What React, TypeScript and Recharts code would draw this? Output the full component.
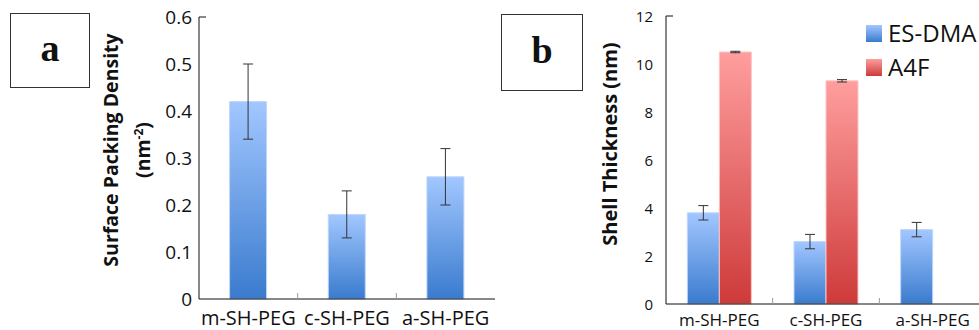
import React from 'react';
import { BarChart, Bar, XAxis, YAxis, ErrorBar } from 'recharts';

const categories = ['m-SH-PEG', 'c-SH-PEG', 'a-SH-PEG'];
const densityValues = [0.42, 0.18, 0.26];
const densityErrors = [0.08, 0.05, 0.06];
const esdmaValues = [3.8, 2.6, 3.1];
const esdmaErrors = [0.3, 0.3, 0.3];
const a4fValues: (number | null)[] = [10.5, 9.3, null];
const a4fErrors: (number | null)[] = [0.03, 0.05, null];
const densityTicks = [0, 0.1, 0.2, 0.3, 0.4, 0.5, 0.6];
const thicknessTicks = [0, 2, 4, 6, 8, 10, 12];
const seriesNames = ['ES-DMA', 'A4F'];

const densityData = categories.map((c, i) => ({ name: c, value: densityValues[i], err: densityErrors[i] }));
const thicknessData = categories.map((c, i) => ({
  name: c,
  esdma: esdmaValues[i],
  esdmaErr: esdmaErrors[i],
  a4f: a4fValues[i],
  a4fErr: a4fErrors[i],
}));

const FONT = '"Open Sans", sans-serif';

// layout constants
const A_W = 500, A_H = 330, A_YW = 199, A_TOP = 17, A_XH = 31, A_RIGHT = 5;
const B_W = 496, B_H = 330, B_YW = 176, B_TOP = 16, B_XH = 26;
const A_BAND = (A_W - A_YW - A_RIGHT) / categories.length;
const B_BAND = (B_W - B_YW) / categories.length;

const BLUE_TOP = '#A2C7FF', BLUE_BOT = '#3A7BCE';
const RED_TOP = '#FF9E9E', RED_BOT = '#CE3A3A';

function makeYTick(fontSize: number, gap: number, top: number, fmt: (v: number) => string) {
  return (p: any) => {
    const { x, y, payload } = p;
    return (
      <g>
        <text x={x - gap} y={y} textAnchor="end" dominantBaseline="central" fontSize={fontSize} fontFamily={FONT} fill="#111">
          {fmt(payload.value)}
        </text>
        {payload.value === top && <line x1={x} x2={x + 7} y1={y} y2={y} stroke="#111" strokeWidth={1} />}
      </g>
    );
  };
}

function makeXTick(fontSize: number, dy: number, band: number) {
  return (p: any) => {
    const { x, y, payload, index } = p;
    return (
      <g>
        <text x={x} y={y + dy} textAnchor="middle" fontSize={fontSize} fontFamily={FONT} fill="#111">
          {payload.value}
        </text>
        {index < categories.length - 1 && (
          <line x1={x + band / 2} x2={x + band / 2} y1={y} y2={y - 6} stroke="#999" strokeWidth={1} />
        )}
      </g>
    );
  };
}

function LabelBox({ left, top, width, height, letter }: any) {
  return (
    <div
      style={{
        position: 'absolute',
        left,
        top,
        width,
        height,
        boxSizing: 'border-box',
        border: '1px solid #333',
        display: 'flex',
        alignItems: 'center',
        justifyContent: 'center',
        fontFamily: '"Liberation Serif", serif',
        fontWeight: 'bold',
        fontSize: 38,
        color: '#111',
        paddingBottom: 6,
      }}
    >
      {letter}
    </div>
  );
}

function ThicknessLegend() {
  const items = [
    { name: seriesNames[0], top: BLUE_TOP, bot: BLUE_BOT },
    { name: seriesNames[1], top: RED_TOP, bot: RED_BOT },
  ];
  return (
    <div style={{ position: 'absolute', left: 866, top: 16, fontFamily: FONT }}>
      {items.map((it) => (
        <div key={it.name} style={{ display: 'flex', alignItems: 'center', height: 34 }}>
          <div style={{ width: 16, height: 17, background: `linear-gradient(${it.top}, ${it.bot})`, marginRight: 6 }} />
          <span style={{ fontSize: 24, color: '#111', lineHeight: '24px' }}>{it.name}</span>
        </div>
      ))}
    </div>
  );
}

export default function App() {
  return (
    <div style={{ position: 'absolute', left: 0, top: 0, width: 979, height: 330, overflow: 'hidden', background: '#fff' }}>
      <LabelBox left={10} top={13} width={80} height={75} letter="a" />
      <LabelBox left={501} top={14} width={82} height={77} letter="b" />

      <div style={{ position: 'absolute', left: 0, top: 0 }}>
        <BarChart width={A_W} height={A_H} data={densityData} margin={{ top: A_TOP, right: A_RIGHT, bottom: 0, left: 0 }} barCategoryGap="31%">
          <defs>
            <linearGradient id="blueGrad" x1="0" y1="0" x2="0" y2="1">
              <stop offset="0%" stopColor={BLUE_TOP} />
              <stop offset="100%" stopColor={BLUE_BOT} />
            </linearGradient>
          </defs>
          <XAxis
            dataKey="name"
            height={A_XH}
            axisLine={{ stroke: '#111' }}
            tickLine={false}
            tickSize={0}
            tickMargin={0}
            interval={0}
            tick={makeXTick(20, 26, A_BAND)}
          />
          <YAxis
            width={A_YW}
            domain={[0, 0.6]}
            ticks={densityTicks}
            axisLine={{ stroke: '#111' }}
            tickLine={false}
            tickSize={0}
            tickMargin={0}
            interval={0}
            tick={makeYTick(19, 7, 0.6, (v) => (v === 0 ? '0' : v.toFixed(1)))}
            label={{
              content: () => (
                <g fontFamily={FONT} fontWeight="bold" fontSize={19.5} fill="#111">
                  <text x={118} y={150} textAnchor="middle" transform="rotate(-90 118 150)">Surface Packing Density</text>
                  <text x={150} y={150} textAnchor="middle" transform="rotate(-90 150 150)">
                    (nm<tspan fontSize={12} dy={-7}>-2</tspan><tspan dy={7}>)</tspan>
                  </text>
                </g>
              ),
            }}
          />
          <Bar dataKey="value" fill="url(#blueGrad)" stroke="#BFD6F8" strokeWidth={1} isAnimationActive={false}>
            <ErrorBar dataKey="err" width={5} stroke="#333" strokeWidth={1} />
          </Bar>
        </BarChart>
      </div>

      <div style={{ position: 'absolute', left: 490, top: 0 }}>
        <BarChart width={B_W} height={B_H} data={thicknessData} margin={{ top: B_TOP, right: 0, bottom: 0, left: 0 }} barCategoryGap="20%" barGap={0}>
          <defs>
            <linearGradient id="blueGrad2" x1="0" y1="0" x2="0" y2="1">
              <stop offset="0%" stopColor={BLUE_TOP} />
              <stop offset="100%" stopColor={BLUE_BOT} />
            </linearGradient>
            <linearGradient id="redGrad" x1="0" y1="0" x2="0" y2="1">
              <stop offset="0%" stopColor={RED_TOP} />
              <stop offset="100%" stopColor={RED_BOT} />
            </linearGradient>
          </defs>
          <XAxis
            dataKey="name"
            height={B_XH}
            axisLine={{ stroke: '#111' }}
            tickLine={false}
            tickSize={0}
            tickMargin={0}
            interval={0}
            tick={makeXTick(17, 22, B_BAND)}
          />
          <YAxis
            width={B_YW}
            domain={[0, 12]}
            ticks={thicknessTicks}
            axisLine={{ stroke: '#111' }}
            tickLine={false}
            tickSize={0}
            tickMargin={0}
            interval={0}
            tick={makeYTick(15, 13, 12, (v) => String(v))}
            label={{
              content: () => (
                <text
                  x={127}
                  y={144}
                  textAnchor="middle"
                  transform="rotate(-90 127 144)"
                  fontFamily={FONT}
                  fontWeight="bold"
                  fontSize={20}
                  fill="#111"
                >
                  Shell Thickness (nm)
                </text>
              ),
            }}
          />
          <Bar dataKey="esdma" name={seriesNames[0]} fill="url(#blueGrad2)" stroke="#BFD6F8" strokeWidth={1} isAnimationActive={false}>
            <ErrorBar dataKey="esdmaErr" width={5} stroke="#333" strokeWidth={1} />
          </Bar>
          <Bar dataKey="a4f" name={seriesNames[1]} fill="url(#redGrad)" stroke="#FFC4C4" strokeWidth={1} isAnimationActive={false}>
            <ErrorBar dataKey="a4fErr" width={5} stroke="#333" strokeWidth={1} />
          </Bar>
        </BarChart>
      </div>

      <ThicknessLegend />
    </div>
  );
}
